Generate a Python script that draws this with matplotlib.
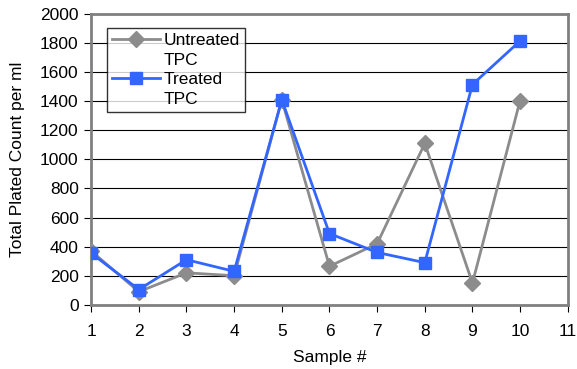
import numpy as np
import matplotlib.pyplot as plt
from matplotlib.lines import Line2D

plt.rcParams['font.family'] = ['Liberation Sans', 'DejaVu Sans']

# Data
samples = [1, 2, 3, 4, 5, 6, 7, 8, 9, 10]
untreated = [370, 90, 220, 200, 1410, 265, 420, 1110, 150, 1405]
treated = [355, 105, 310, 230, 1410, 490, 360, 290, 1515, 1815]

fig = plt.figure(figsize=(5.77, 3.69), dpi=100)
ax = fig.add_axes([0.158, 0.174, 0.826, 0.788])

gray_line, = ax.plot(samples, untreated, color='#8c8c8c', lw=2, marker='D',
                     ms=8, zorder=3)
blue_line, = ax.plot(samples, treated, color='#3366ff', lw=2, marker='s',
                     ms=8, zorder=4)

ax.set_xlim(1, 11)
ax.set_ylim(0, 2000)
ax.set_xticks(range(1, 12))
ax.set_yticks(range(0, 2001, 200))
ax.yaxis.grid(True, color='black', lw=0.8)
ax.set_axisbelow(True)
for s in ax.spines.values():
    s.set_color('#808080')
    s.set_linewidth(2)
ax.tick_params(labelsize=12.5, direction='out', length=5, color='black')
ax.tick_params(axis='x', pad=9)
ax.tick_params(axis='y', pad=4)

ax.set_xlabel('Sample #', fontsize=12.5, va='center')
ax.xaxis.set_label_coords(0.5, -0.18)
ax.set_ylabel('Total Plated Count per ml', fontsize=12.5, va='center')
ax.yaxis.set_label_coords(-0.155, 0.5)

# label text split on two rows, handle on the first row only
blank = Line2D([], [], lw=0, marker=None)
leg = ax.legend([gray_line, blank, blue_line, blank],
                ['Untreated', 'TPC', 'Treated', 'TPC'],
                loc='upper left', bbox_to_anchor=(107 / 577, 1 - 28 / 369),
                bbox_transform=fig.transFigure, borderaxespad=0,
                fontsize=12.5, frameon=True, fancybox=False,
                edgecolor='black', handlelength=2.75, labelspacing=0.25,
                borderpad=0.3, handletextpad=0.2)
leg.get_frame().set_linewidth(1.0)

fig.savefig('out.png', dpi=100)
